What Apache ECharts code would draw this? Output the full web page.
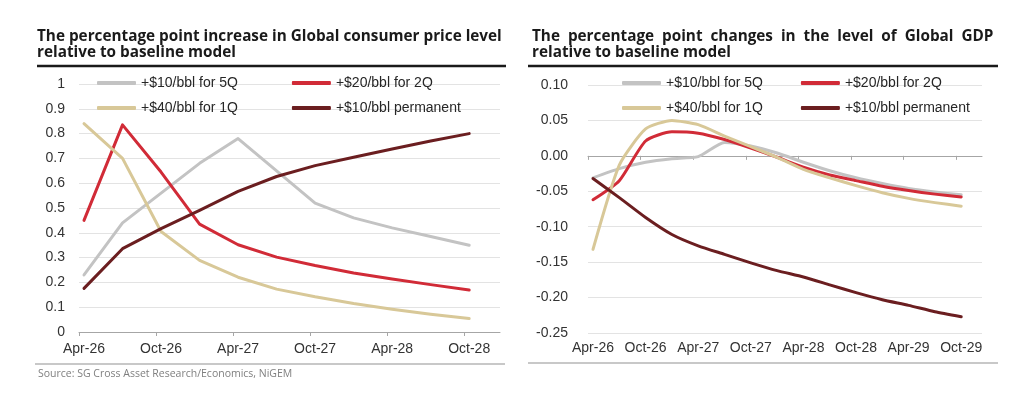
<!DOCTYPE html>
<html>
<head>
<meta charset="utf-8">
<script src="https://cdn.jsdelivr.net/npm/echarts@6/dist/echarts.min.js"></script>
<style>
  html, body { margin: 0; padding: 0; background: #fff; }
  #chart { width: 1024px; height: 399px; }
</style>
</head>
<body>
<div id="chart"></div>
<script>
// quarters on the x axis
const cpiQuarters = ['Apr-26', 'Jul-26', 'Oct-26', 'Jan-27', 'Apr-27', 'Jul-27', 'Oct-27', 'Jan-28', 'Apr-28', 'Jul-28', 'Oct-28'];
const gdpQuarters = ['Apr-26', 'Jul-26', 'Oct-26', 'Jan-27', 'Apr-27', 'Jul-27', 'Oct-27', 'Jan-28', 'Apr-28', 'Jul-28', 'Oct-28', 'Jan-29', 'Apr-29', 'Jul-29', 'Oct-29'];

const seriesNames = ['+$10/bbl for 5Q', '+$20/bbl for 2Q', '+$40/bbl for 1Q', '+$10/bbl permanent'];

// left: consumer price level, pp vs baseline
const cpi5Q   = [0.23, 0.44, 0.56, 0.68, 0.78, 0.65, 0.52, 0.46, 0.42, 0.385, 0.35];
const cpi2Q   = [0.45, 0.835, 0.645, 0.435, 0.352, 0.302, 0.268, 0.238, 0.214, 0.191, 0.169];
const cpi1Q   = [0.84, 0.70, 0.405, 0.289, 0.221, 0.173, 0.142, 0.115, 0.092, 0.072, 0.054];
const cpiPerm = [0.176, 0.336, 0.417, 0.49, 0.567, 0.627, 0.671, 0.705, 0.738, 0.77, 0.80];

// right: GDP level, pp vs baseline
const gdp5Q   = [-0.031, -0.018, -0.009, -0.004, -0.001, 0.019, 0.014, 0.004, -0.009, -0.021, -0.031, -0.039, -0.046, -0.051, -0.055];
const gdp2Q   = [-0.062, -0.035, 0.021, 0.034, 0.032, 0.023, 0.011, -0.002, -0.016, -0.027, -0.035, -0.043, -0.049, -0.054, -0.058];
const gdp1Q   = [-0.132, -0.013, 0.038, 0.05, 0.044, 0.028, 0.013, -0.002, -0.019, -0.031, -0.042, -0.052, -0.06, -0.066, -0.071];
const gdpPerm = [-0.032, -0.059, -0.087, -0.111, -0.127, -0.139, -0.151, -0.162, -0.171, -0.182, -0.193, -0.203, -0.211, -0.22, -0.227];

const colors = ['#c3c3c3', '#d12b37', '#d8c898', '#6b1e20'];
const labelFont = 'Liberation Sans, Arial, sans-serif';
const titleFont = 'Open Sans, sans-serif';

const chart = echarts.init(document.getElementById('chart'));

function toPoints(values) {
  return values.map((v, i) => [i, v]);
}

function lineSeries(name, values, color, idx, smooth) {
  return {
    name: name,
    type: 'line',
    xAxisIndex: idx === 0 ? 0 : 1,
    yAxisIndex: idx,
    data: toPoints(values),
    color: color,
    showSymbol: false,
    symbol: 'none',
    smooth: smooth,
    lineStyle: { width: 3, color: color, cap: 'round', join: 'round' },
    emphasis: { disabled: true }
  };
}

function everyOther(list) {
  return list.map((q, i) => i).filter(i => i % 2 === 0);
}

function legendRow(names, left, top, gap) {
  return {
    data: names,
    left: left,
    top: top,
    padding: 0,
    itemGap: gap,
    itemWidth: 39,
    itemHeight: 4,
    icon: 'roundRect',
    selectedMode: false,
    textStyle: { fontFamily: labelFont, fontSize: 14, color: '#262626', lineHeight: 16 }
  };
}

const cpiMin = -0.13, cpiMax = 10.8;
const gdpMin = -0.19, gdpMax = 14.79;
const cpiLabelIdx = everyOther(cpiQuarters);
const gdpLabelIdx = everyOther(gdpQuarters);

const axisGrey = '#a6a6a6';
const titleStyle = { fontFamily: titleFont, fontWeight: 'bold', fontSize: 15.3, lineHeight: 16, color: '#1a1a1a' };

const option = {
  backgroundColor: '#fff',
  animation: false,
  title: [
    {
      text: 'The percentage point increase in Global consumer price level\nrelative to baseline model',
      left: 37, top: 29, padding: 0,
      textStyle: titleStyle
    },
    {
      text: 'The  percentage  point  changes  in  the  level  of  Global  GDP\nrelative to baseline model',
      left: 532, top: 29, padding: 0,
      textStyle: titleStyle
    },
    {
      text: 'Source: SG Cross Asset Research/Economics, NiGEM',
      left: 38, top: 369, padding: 0,
      textStyle: { fontFamily: titleFont, fontWeight: 'normal', fontSize: 10.5, color: '#7f7f7f' }
    }
  ],
  legend: [
    legendRow([seriesNames[0], seriesNames[1]], 97, 75, 54),
    legendRow([seriesNames[2], seriesNames[3]], 97, 100, 54),
    legendRow([seriesNames[0], seriesNames[1]], 622, 75, 38),
    legendRow([seriesNames[2], seriesNames[3]], 622, 100, 38)
  ],
  grid: [
    { left: 79, top: 84, width: 421, height: 248, outerBoundsMode: 'none' },
    { left: 588, top: 85, width: 394, height: 248, outerBoundsMode: 'none' }
  ],
  xAxis: [
    {
      gridIndex: 0, type: 'value', min: cpiMin, max: cpiMax,
      axisLine: { show: true, onZero: false, lineStyle: { color: axisGrey, width: 1 } },
      axisTick: { show: true, length: 4, customValues: cpiLabelIdx.map(i => i + cpiMin), lineStyle: { color: axisGrey } },
      axisLabel: {
        customValues: cpiLabelIdx, formatter: v => cpiQuarters[v],
        fontFamily: labelFont, fontSize: 14, color: '#333', margin: 10
      },
      splitLine: { show: false }
    },
    {
      // zero line with ticks
      gridIndex: 1, type: 'value', min: gdpMin, max: gdpMax,
      axisLine: { show: true, onZero: true, lineStyle: { color: axisGrey, width: 1 } },
      axisTick: { show: true, length: 4, customValues: gdpLabelIdx.map(i => i + gdpMin), lineStyle: { color: axisGrey } },
      axisLabel: { show: false },
      splitLine: { show: false }
    },
    {
      // labels along the bottom
      gridIndex: 1, type: 'value', min: gdpMin, max: gdpMax, position: 'bottom',
      axisLine: { show: false, onZero: false },
      axisTick: { show: false },
      axisLabel: {
        customValues: gdpLabelIdx, formatter: v => gdpQuarters[v],
        fontFamily: labelFont, fontSize: 14, color: '#333', margin: 8
      },
      splitLine: { show: false }
    }
  ],
  yAxis: [
    {
      gridIndex: 0, type: 'value', min: 0, max: 1, interval: 0.1,
      axisLine: { show: false }, axisTick: { show: false },
      axisLabel: {
        formatter: v => String(Math.round(v * 10) / 10),
        fontFamily: labelFont, fontSize: 14, color: '#333', margin: 14
      },
      splitLine: { lineStyle: { color: '#e3e3e3', width: 1 } }
    },
    {
      gridIndex: 1, type: 'value', min: -0.25, max: 0.1, interval: 0.05,
      axisLine: { show: false }, axisTick: { show: false },
      axisLabel: {
        formatter: v => (Math.round(v * 100) / 100).toFixed(2),
        fontFamily: labelFont, fontSize: 14, color: '#333', margin: 20
      },
      splitLine: { lineStyle: { color: '#e3e3e3', width: 1 } }
    }
  ],
  graphic: [
    { type: 'line', shape: { x1: 37, y1: 66, x2: 506, y2: 66 }, style: { stroke: '#1a1a1a', lineWidth: 2.5 } },
    { type: 'line', shape: { x1: 528, y1: 66, x2: 998, y2: 66 }, style: { stroke: '#1a1a1a', lineWidth: 2.5 } },
    { type: 'line', shape: { x1: 35, y1: 364, x2: 505, y2: 364 }, style: { stroke: '#c8c8c8', lineWidth: 2 } },
    { type: 'line', shape: { x1: 528, y1: 363, x2: 998, y2: 363 }, style: { stroke: '#c8c8c8', lineWidth: 2 } }
  ],
  series: [
    lineSeries(seriesNames[0], cpi5Q, colors[0], 0, false),
    lineSeries(seriesNames[1], cpi2Q, colors[1], 0, false),
    lineSeries(seriesNames[2], cpi1Q, colors[2], 0, false),
    lineSeries(seriesNames[3], cpiPerm, colors[3], 0, false),
    lineSeries(seriesNames[0], gdp5Q, colors[0], 1, 0.2),
    lineSeries(seriesNames[1], gdp2Q, colors[1], 1, 0.2),
    lineSeries(seriesNames[2], gdp1Q, colors[2], 1, 0.2),
    lineSeries(seriesNames[3], gdpPerm, colors[3], 1, 0.2)
  ]
};

chart.setOption(option);
window.addEventListener('resize', () => chart.resize());
</script>
</body>
</html>
